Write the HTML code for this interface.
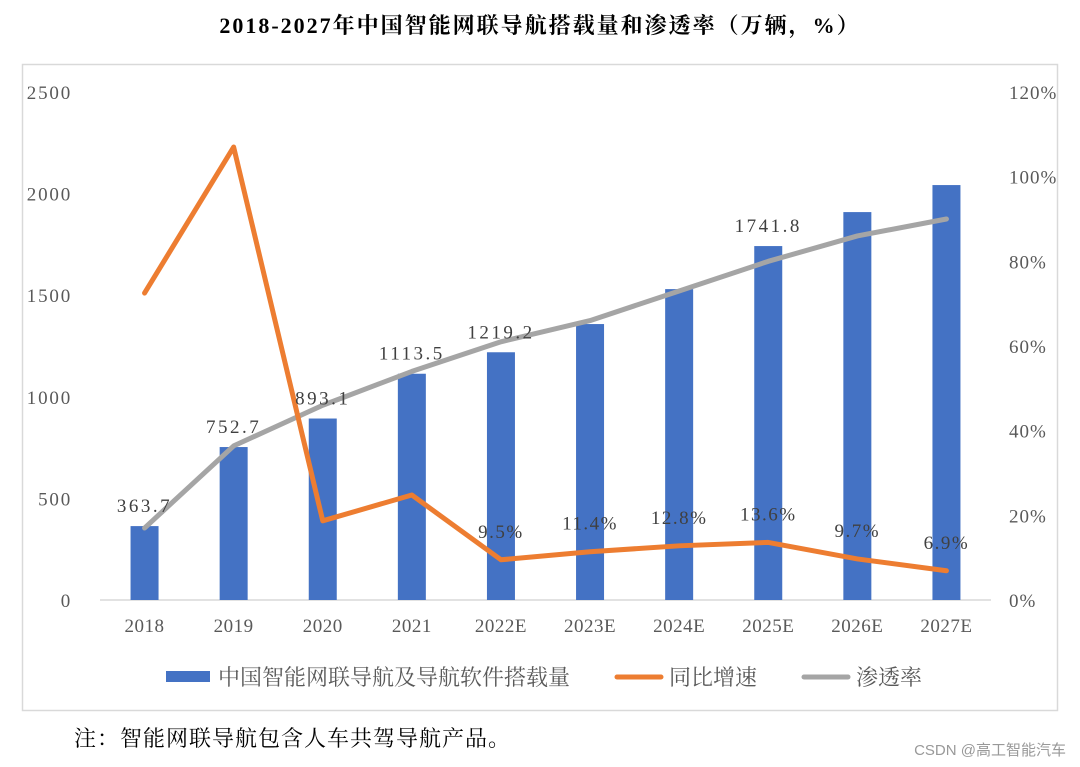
<!DOCTYPE html>
<html><head><meta charset="utf-8">
<style>
body{margin:0;background:#fff;width:1080px;height:767px;overflow:hidden;font-family:"Liberation Serif","Noto Serif CJK SC",serif;}
svg{display:block}
</style></head>
<body>
<svg id="chart" width="1080" height="767">
<text x="540" y="33" text-anchor="middle" font-size="22" font-weight="bold" letter-spacing="2" fill="#000" style="font-family:'Liberation Serif','Noto Serif CJK SC',serif">2018-2027年中国智能网联导航搭载量和渗透率（万辆，%）</text>
<rect x="22.5" y="64.5" width="1035" height="646" fill="none" stroke="#d9d9d9" stroke-width="1.5"/>
<g id="plot"></g>
<text x="74" y="746" font-size="22" letter-spacing="1" fill="#000" style="font-family:'Liberation Serif','Noto Serif CJK SC',serif">注：智能网联导航包含人车共驾导航产品。</text>
<text x="1066" y="755" text-anchor="end" font-size="15" fill="#999" style="font-family:'Liberation Sans','Noto Sans CJK SC',sans-serif">CSDN @高工智能汽车</text>
</svg>
<script>
const categories=["2018","2019","2020","2021","2022E","2023E","2024E","2025E","2026E","2027E"];
const volume=[363.7,752.7,893.1,1113.5,1219.2,1358,1530,1741.8,1909,2042];
const volumeLabels=["363.7","752.7","893.1","1113.5","1219.2","","","1741.8","",""];
const growth=[72.5,107,18.7,24.8,9.5,11.4,12.8,13.6,9.7,6.9];
const growthLabels=["","","","","9.5%","11.4%","12.8%","13.6%","9.7%","6.9%"];
const penetration=[17,36.4,46,54,61,66,73,80,86,90];
const leftTicks=[0,500,1000,1500,2000,2500];
const rightTicks=[0,20,40,60,80,100,120];

const NS="http://www.w3.org/2000/svg";
const g=document.getElementById('plot');
const x0=100,x1=991,yB=600,yT=92;
const step=(x1-x0)/categories.length;
const xc=i=>x0+step*(i+0.5);
const yL=v=>yB-(v/2500)*(yB-yT);
const yR=v=>yB-(v/120)*(yB-yT);
function el(t,a,txt){const e=document.createElementNS(NS,t);for(const k in a)e.setAttribute(k,a[k]);if(txt!==undefined)e.textContent=txt;g.appendChild(e);return e;}

leftTicks.forEach(v=>{const t=el('text',{x:72,y:yL(v)+7,'text-anchor':'end','font-size':19,'letter-spacing':1.8,fill:'#595959'},String(v));

});
rightTicks.forEach(v=>{const t=el('text',{x:1009,y:yR(v)+7,'font-size':19,'letter-spacing':1,fill:'#595959'},v+'%');

});
const ax=el('line',{x1:x0,y1:yB,x2:x1,y2:yB,stroke:'#d9d9d9','stroke-width':1.5});



categories.forEach((c,i)=>{
 const r=el('rect',{x:xc(i)-14,y:yL(volume[i]),width:28,height:yB-yL(volume[i]),fill:'#4472c4'});
 
 
 const t=el('text',{x:xc(i),y:632,'text-anchor':'middle','font-size':19,'letter-spacing':0.5,fill:'#595959'},c);
 
 
});
function line(vals,col,name){
 const p=el('polyline',{points:vals.map((v,i)=>xc(i)+','+yR(v)).join(' '),fill:'none',stroke:col,'stroke-width':5,'stroke-linejoin':'round','stroke-linecap':'round'});
 
 
}
line(penetration,'#a5a5a5','penetration-line');
line(growth,'#ed7d31','growth-line');
volumeLabels.forEach((l,i)=>{if(!l)return;
 const t=el('text',{x:xc(i),y:yL(volume[i])-14,'text-anchor':'middle','font-size':19,'letter-spacing':2.5,fill:'#404040'},l);
 
 });
growthLabels.forEach((l,i)=>{if(!l)return;
 const t=el('text',{x:xc(i),y:yR(growth[i])-22,'text-anchor':'middle','font-size':19,'letter-spacing':1.5,fill:'#404040'},l);
 
 });

// legend
const lg=[["bar","中国智能网联导航及导航软件搭载量",166],["orange","同比增速",617],["gray","渗透率",804]];
lg.forEach(([k,txt,x])=>{
 let m;
 if(k==='bar')m=el('rect',{x:x,y:671,width:44,height:11,fill:'#4472c4'});
 else m=el('line',{x1:x,y1:677,x2:x+44,y2:677,stroke:k==='orange'?'#ed7d31':'#a5a5a5','stroke-width':5,'stroke-linecap':'round'});
 
 
 const t=el('text',{x:x+52,y:685,'font-size':22,fill:'#595959'},txt);
 
 
});
</script>
</body></html>
